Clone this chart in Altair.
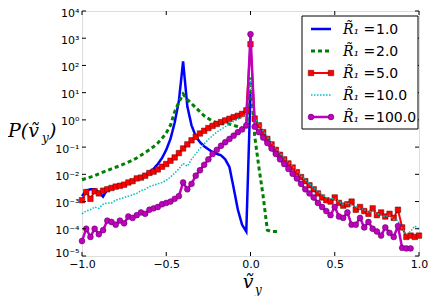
import altair as alt
import pandas as pd

# bin centres of the histogram (x = v_y), step 0.025
x_grid = [round(-1.0 + 0.025 * i, 3) for i in range(81)]

# log10 of P(v_y), one list per series
r1_log10 = [-2.8, -2.6, -2.55, -2.55, -2.65, -2.82, -2.55, -2.5, -2.45, -2.42,
            -2.38, -2.3, -2.25, -2.18, -2.1, -2.02, -1.92, -1.8, -1.62, -1.4,
            -1.1, -0.7, -0.1, 0.7, 2.15, 0.5, -0.2, -0.6, -0.82, -0.97,
            -1.08, -1.18, -1.25, -1.3, -1.45, -1.73, -2.5, -3.3, -3.85, -4.1,
            1.0]
r2_log10 = [-2.2, -2.15, -2.1, -2.05, -1.98, -1.92, -1.86, -1.8, -1.74, -1.68,
            -1.62, -1.55, -1.48, -1.4, -1.3, -1.2, -1.1, -0.98, -0.85, -0.68,
            -0.48, -0.2, 0.3, 0.65, 0.95, 0.75, 0.6, 0.45, 0.3, 0.15,
            0.05, -0.05, -0.1, -0.13, -0.14, -0.15, -0.2, -0.25, -0.3, -0.35,
            1.55, -0.6, -1.75, -2.8, -4.05, -4.1, -4.1, -4.1]
r5_log10 = [-2.95, -2.65, -2.9, -2.62, -2.7, -2.6, -2.55, -2.5, -2.45, -2.42,
            -2.38, -2.3, -2.25, -2.15, -2.12, -2.05, -1.95, -1.9, -1.82, -1.72,
            -1.62, -1.5, -1.38, -1.22, -1.05, -0.9, -0.75, -0.62, -0.5, -0.4,
            -0.3, -0.22, -0.15, -0.08, -0.02, 0.04, 0.1, 0.15, 0.22, 0.35,
            2.78, 0.05, -0.2, -0.45, -0.7, -0.9, -1.1, -1.28, -1.45, -1.6,
            -1.75, -1.92, -2.1, -2.25, -2.4, -2.55, -2.7, -2.85, -2.95, -3.0,
            -2.85, -3.05, -3.15, -3.1, -3.0, -3.3, -3.2, -3.35, -3.45, -3.25,
            -3.5, -3.4, -3.55, -3.45, -3.6, -3.3, -3.95, -4.3, -4.25, -4.3,
            -4.25]
r10_log10 = [-3.45, -3.35, -3.3, -3.2, -3.25, -3.1, -3.05, -3.05, -2.95, -2.9,
             -2.85, -2.8, -2.75, -2.7, -2.6, -2.55, -2.45, -2.4, -2.35, -2.3,
             -2.22, -2.1, -1.95, -1.8, -1.6, -1.7, -1.45, -1.25, -1.05, -0.88,
             -0.72, -0.58, -0.45, -0.35, -0.25, -0.15, -0.05, 0.03, 0.1, 0.2,
             1.5, 0.05, -0.15, -0.4, -0.62, -0.85, -1.05, -1.22, -1.4, -1.55,
             -1.7, -1.88, -2.05, -2.2, -2.35, -2.5, -2.62, -2.75, -2.85, -2.9,
             -2.9, -3.0, -3.1, -3.05, -3.15, -3.2, -3.25, -3.3, -3.4, -3.35,
             -3.45, -3.5, -3.55, -3.5, -3.65, -3.7, -4.0, -4.2, -4.1, -3.9,
             -4.0]
r100_log10 = [-4.45, -4.0, -4.3, -4.0, -4.2, -4.05, -3.7, -3.75, -3.85, -3.7,
              -3.8, -3.55, -3.6, -3.5, -3.4, -3.45, -3.3, -3.25, -3.2, -3.1,
              -3.05, -3.0, -2.9, -2.8, -2.3, -2.55, -2.35, -2.05, -1.85, -1.65,
              -1.45, -1.25, -1.1, -0.95, -0.82, -0.7, -0.58, -0.45, -0.35, -0.2,
              3.15, -0.25, -0.45, -0.65, -0.85, -1.05, -1.25, -1.45, -1.62, -1.8,
              -1.98, -2.15, -2.35, -2.55, -2.7, -2.85, -3.05, -3.2, -3.35, -3.5,
              -3.2, -3.55, -3.6, -3.4, -3.85, -3.85, -3.6, -3.95, -3.75, -4.0,
              -4.1, -4.25, -3.95, -4.15, -4.3, -3.9, -4.7, -4.72, -4.72]

series_names = ["1.0", "2.0", "5.0", "10.0", "100.0"]
series_logs = [r1_log10, r2_log10, r5_log10, r10_log10, r100_log10]
colors = ["#0000ff", "#008000", "#ff0000", "#00bfbf", "#bf00bf"]
dashes = [[1, 0], [4, 3], [1, 0], [1.5, 1.5], [1, 0]]
widths = [2.5, 3, 2, 1.5, 2.5]

ytick_vals = [1e-5, 1e-4, 1e-3, 1e-2, 1e-1, 1e0, 1e1, 1e2, 1e3, 1e4]
ytick_labels = ["10⁻⁵", "10⁻⁴", "10⁻³", "10⁻²", "10⁻¹", "10⁰", "10¹", "10²", "10³", "10⁴"]
xtick_vals = [-1.0, -0.5, 0.0, 0.5, 1.0]

W, H = 337, 245
xscale = alt.Scale(domain=[-1, 1], nice=False, zero=False)
yscale = alt.Scale(type="log", domain=[1e-5, 1e4], nice=False)

label_expr = "[" + ",".join(f"'{l}'" for l in ytick_labels) + "][round(log(datum.value)/LN10)+5]"

ax_x = alt.Axis(values=xtick_vals, format=".1f", ticks=False, domain=False,
                grid=False, title=None, labelFont="DejaVu Sans",
                labelFontSize=11, labelColor="black", labelPadding=2,
                labelFlush=False)
ax_y = alt.Axis(values=ytick_vals, labelExpr=label_expr, ticks=False, domain=False,
                grid=False, title=None, labelFont="DejaVu Sans",
                labelFontSize=11, labelColor="black", labelPadding=3,
                labelOffset=alt.condition("datum.value < 2e-5", alt.value(-3), alt.value(2)))


def X(field):
    return alt.X(field, scale=xscale, axis=ax_x)


def Y(field):
    return alt.Y(field, scale=yscale, axis=ax_y)


layers = []
for i, (name, logs) in enumerate(zip(series_names, series_logs)):
    df = pd.DataFrame({"x": x_grid[:len(logs)], "p": [10 ** v for v in logs]})
    layers.append(alt.Chart(df).mark_line(color=colors[i], strokeWidth=widths[i],
                                          strokeDash=dashes[i]).encode(x=X("x:Q"), y=Y("p:Q")))
    if name == "5.0":
        layers.append(alt.Chart(df).mark_point(shape="square", filled=True, size=30,
                                               color=colors[i], stroke="#600000",
                                               strokeWidth=0.5, opacity=1)
                      .encode(x=X("x:Q"), y=Y("p:Q")))
    if name == "100.0":
        layers.append(alt.Chart(df).mark_point(shape="circle", filled=True, size=34,
                                               color=colors[i], stroke="#500050",
                                               strokeWidth=0.5, opacity=1)
                      .encode(x=X("x:Q"), y=Y("p:Q")))

# inward ticks on all four sides
ydf = pd.DataFrame({"v": ytick_vals})
xdf = pd.DataFrame({"v": xtick_vals})
for x0, x1 in [(0, 4), (W - 4, W)]:
    layers.append(alt.Chart(ydf).mark_rule(color="black", strokeWidth=1).encode(
        y=Y("v:Q"), x=alt.value(x0), x2=alt.value(x1)))
for y0, y1 in [(H - 4, H), (0, 4)]:
    layers.append(alt.Chart(xdf).mark_rule(color="black", strokeWidth=1).encode(
        x=X("v:Q"), y=alt.value(y0), y2=alt.value(y1)))

one = pd.DataFrame({"a": [0]})

# legend box
LX = 220
layers.append(alt.Chart(one).mark_rect(fill="white", stroke="black", strokeWidth=1).encode(
    x=alt.value(LX), x2=alt.value(LX + 116), y=alt.value(5), y2=alt.value(118)))
for i, name in enumerate(series_names):
    ry = 18 + 22 * i
    layers.append(alt.Chart(one).mark_rule(color=colors[i], strokeWidth=widths[i],
                                           strokeDash=dashes[i]).encode(
        x=alt.value(LX + 9), x2=alt.value(LX + 29), y=alt.value(ry)))
    if name in ("5.0", "100.0"):
        shp = "square" if name == "5.0" else "circle"
        sz = 30 if name == "5.0" else 34
        for px in (LX + 9, LX + 29):
            layers.append(alt.Chart(one).mark_point(shape=shp, filled=True, size=sz,
                                                    color=colors[i], opacity=1,
                                                    stroke="#500050" if name == "100.0" else "#600000",
                                                    strokeWidth=0.5).encode(
                x=alt.value(px), y=alt.value(ry)))
    layers.append(alt.Chart(one).mark_text(text="R̃₁ =", font="DejaVu Serif", fontStyle="italic",
                                           fontSize=14, align="left", baseline="alphabetic",
                                           color="black").encode(
        x=alt.value(LX + 41), y=alt.value(ry + 5)))
    layers.append(alt.Chart(one).mark_text(text=name, font="DejaVu Sans", fontSize=14,
                                           align="left", baseline="alphabetic",
                                           color="black").encode(
        x=alt.value(LX + 74), y=alt.value(ry + 5)))

# axis titles (math style)
layers.append(alt.Chart(one).mark_text(text="ṽ", font="DejaVu Serif", fontStyle="italic",
                                       fontSize=19, align="center", baseline="alphabetic",
                                       color="black").encode(x=alt.value(166), y=alt.value(277)))
layers.append(alt.Chart(one).mark_text(text="y", font="DejaVu Serif", fontStyle="italic",
                                       fontSize=12, align="left", baseline="alphabetic",
                                       color="black").encode(x=alt.value(173), y=alt.value(283)))
layers.append(alt.Chart(one).mark_text(text="P(ṽ", font="DejaVu Serif", fontStyle="italic",
                                       fontSize=19, align="left", baseline="alphabetic",
                                       color="black").encode(x=alt.value(-74), y=alt.value(126)))
layers.append(alt.Chart(one).mark_text(text="y", font="DejaVu Serif", fontStyle="italic",
                                       fontSize=12, align="left", baseline="alphabetic",
                                       color="black").encode(x=alt.value(-40), y=alt.value(131)))
layers.append(alt.Chart(one).mark_text(text=")", font="DejaVu Serif", fontStyle="italic",
                                       fontSize=19, align="left", baseline="alphabetic",
                                       color="black").encode(x=alt.value(-33), y=alt.value(126)))

chart = alt.layer(*layers).properties(
    width=W, height=H,
    autosize=alt.AutoSizeParams(type="none"),
    padding={"left": 74, "top": 3, "right": 9, "bottom": 40},
).configure_view(stroke="black", strokeWidth=1.2).configure(background="white")

chart.save("out.html", embed_options={"renderer": "svg", "actions": False})
